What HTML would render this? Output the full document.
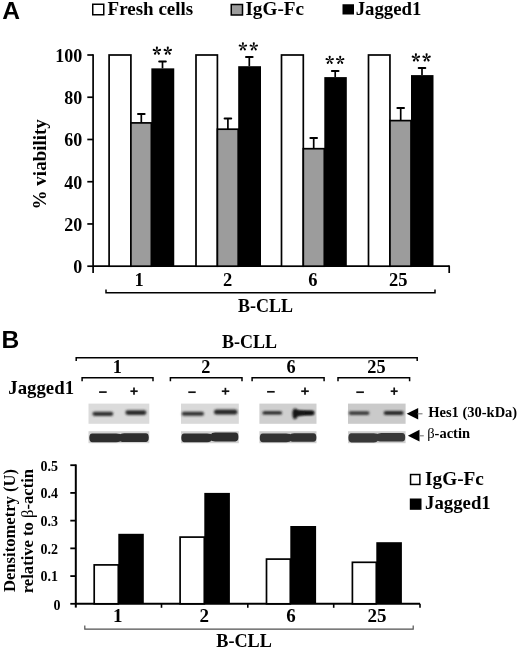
<!DOCTYPE html><html><head><meta charset="utf-8"><title>Figure</title><style>html,body{margin:0;padding:0;background:#fff;}svg{display:block;filter:blur(0.35px)}text{font-family:"Liberation Serif",serif;font-weight:bold;fill:#000}.sans{font-family:"Liberation Sans",sans-serif;font-weight:bold}.reg{font-weight:normal}</style></head><body>
<svg width="520" height="649" viewBox="0 0 520 649">
<defs><filter id="bl1" x="-20%" y="-100%" width="140%" height="300%"><feGaussianBlur stdDeviation="1.0"/></filter><filter id="bl2" x="-20%" y="-100%" width="140%" height="300%"><feGaussianBlur stdDeviation="0.75"/></filter><filter id="bl3" x="-5%" y="-5%" width="110%" height="110%"><feGaussianBlur stdDeviation="0.5"/></filter><g id="ast"><path id="pet" d="M-0.4,-0.5 L-1.0,-3.0 A1.05,1.05 0 1 1 1.0,-3.0 L0.4,-0.5 Z" fill="#000"/><use href="#pet" transform="rotate(72)"/><use href="#pet" transform="rotate(144)"/><use href="#pet" transform="rotate(216)"/><use href="#pet" transform="rotate(288)"/><circle r="0.7" fill="#333"/></g></defs>
<text class="sans" x="2.2" y="19.3" font-size="24.6">A</text>
<rect x="92.75" y="4.25" width="11" height="10.5" fill="#fff" stroke="#000" stroke-width="1.5"/>
<text x="107.6" y="15.1" font-size="19">Fresh cells</text>
<rect x="231.25" y="4.5" width="11.25" height="10.5" fill="#9c9c9c" stroke="#000" stroke-width="1.5"/>
<text x="245.4" y="15.2" font-size="19.2">IgG-Fc</text>
<rect x="342.5" y="4.25" width="11.5" height="10.25" fill="#000"/>
<text x="355.7" y="15.1" font-size="18.8">Jagged1</text>
<line x1="93.1" y1="54.2" x2="93.1" y2="273" stroke="#000" stroke-width="1.7"/>
<line x1="93.1" y1="266.2" x2="449.2" y2="266.2" stroke="#000" stroke-width="1.7"/>
<line x1="449.2" y1="265.4" x2="449.2" y2="273" stroke="#000" stroke-width="1.7"/>
<line x1="87.3" y1="266.20" x2="93.1" y2="266.20" stroke="#000" stroke-width="1.7"/>
<text x="82.2" y="273.20" font-size="18" text-anchor="end">0</text>
<line x1="87.3" y1="223.96" x2="93.1" y2="223.96" stroke="#000" stroke-width="1.7"/>
<text x="82.2" y="230.96" font-size="18" text-anchor="end">20</text>
<line x1="87.3" y1="181.72" x2="93.1" y2="181.72" stroke="#000" stroke-width="1.7"/>
<text x="82.2" y="188.72" font-size="18" text-anchor="end">40</text>
<line x1="87.3" y1="139.48" x2="93.1" y2="139.48" stroke="#000" stroke-width="1.7"/>
<text x="82.2" y="146.48" font-size="18" text-anchor="end">60</text>
<line x1="87.3" y1="97.24" x2="93.1" y2="97.24" stroke="#000" stroke-width="1.7"/>
<text x="82.2" y="104.24" font-size="18" text-anchor="end">80</text>
<line x1="87.3" y1="55.00" x2="93.1" y2="55.00" stroke="#000" stroke-width="1.7"/>
<text x="82.2" y="62.00" font-size="18" text-anchor="end">100</text>
<text transform="translate(46.4,209.4) rotate(-90)" font-size="19">% viability</text>
<line x1="141.30" y1="114.00" x2="141.30" y2="122.90" stroke="#000" stroke-width="1.7"/>
<line x1="138.00" y1="114.00" x2="144.60" y2="114.00" stroke="#000" stroke-width="2" stroke-linecap="round"/>
<line x1="162.50" y1="61.50" x2="162.50" y2="68.35" stroke="#000" stroke-width="1.7"/>
<line x1="159.20" y1="61.50" x2="165.80" y2="61.50" stroke="#000" stroke-width="2" stroke-linecap="round"/>
<rect x="109.10" y="55.00" width="21.80" height="211.20" fill="#fff" stroke="#000" stroke-width="1.7"/>
<rect x="130.90" y="122.90" width="20.45" height="143.30" fill="#9c9c9c" stroke="#000" stroke-width="1.7"/>
<rect x="151.35" y="68.35" width="22.90" height="197.85" fill="#000"/>
<use href="#ast" x="156.9" y="50.9"/>
<use href="#ast" x="167.8" y="50.9"/>
<text x="139.10" y="285.5" font-size="18.5" text-anchor="middle">1</text>
<line x1="227.90" y1="118.50" x2="227.90" y2="129.20" stroke="#000" stroke-width="1.7"/>
<line x1="224.60" y1="118.50" x2="231.20" y2="118.50" stroke="#000" stroke-width="2" stroke-linecap="round"/>
<line x1="249.30" y1="57.10" x2="249.30" y2="66.20" stroke="#000" stroke-width="1.7"/>
<line x1="246.00" y1="57.10" x2="252.60" y2="57.10" stroke="#000" stroke-width="2" stroke-linecap="round"/>
<rect x="196.00" y="55.00" width="21.40" height="211.20" fill="#fff" stroke="#000" stroke-width="1.7"/>
<rect x="217.40" y="129.20" width="20.80" height="137.00" fill="#9c9c9c" stroke="#000" stroke-width="1.7"/>
<rect x="238.20" y="66.20" width="22.80" height="200.00" fill="#000"/>
<use href="#ast" x="242.9" y="46.6"/>
<use href="#ast" x="253.8" y="46.6"/>
<text x="227.60" y="285.5" font-size="18.5" text-anchor="middle">2</text>
<line x1="313.70" y1="138.00" x2="313.70" y2="148.70" stroke="#000" stroke-width="1.7"/>
<line x1="310.40" y1="138.00" x2="317.00" y2="138.00" stroke="#000" stroke-width="2" stroke-linecap="round"/>
<line x1="335.20" y1="71.10" x2="335.20" y2="77.10" stroke="#000" stroke-width="1.7"/>
<line x1="331.90" y1="71.10" x2="338.50" y2="71.10" stroke="#000" stroke-width="2" stroke-linecap="round"/>
<rect x="281.50" y="55.00" width="21.80" height="211.20" fill="#fff" stroke="#000" stroke-width="1.7"/>
<rect x="303.30" y="148.70" width="21.00" height="117.50" fill="#9c9c9c" stroke="#000" stroke-width="1.7"/>
<rect x="324.30" y="77.10" width="22.50" height="189.10" fill="#000"/>
<use href="#ast" x="329.7" y="60.1"/>
<use href="#ast" x="340.2" y="60.1"/>
<text x="312.80" y="285.5" font-size="18.5" text-anchor="middle">6</text>
<line x1="400.70" y1="107.90" x2="400.70" y2="120.60" stroke="#000" stroke-width="1.7"/>
<line x1="397.40" y1="107.90" x2="404.00" y2="107.90" stroke="#000" stroke-width="2" stroke-linecap="round"/>
<line x1="422.00" y1="68.00" x2="422.00" y2="75.10" stroke="#000" stroke-width="1.7"/>
<line x1="418.70" y1="68.00" x2="425.30" y2="68.00" stroke="#000" stroke-width="2" stroke-linecap="round"/>
<rect x="368.50" y="55.00" width="21.45" height="211.20" fill="#fff" stroke="#000" stroke-width="1.7"/>
<rect x="389.95" y="120.60" width="21.05" height="145.60" fill="#9c9c9c" stroke="#000" stroke-width="1.7"/>
<rect x="411.00" y="75.10" width="22.50" height="191.10" fill="#000"/>
<use href="#ast" x="415.9" y="57.7"/>
<use href="#ast" x="426.6" y="57.7"/>
<text x="398.30" y="285.5" font-size="18.5" text-anchor="middle">25</text>
<path d="M106,289.5 V292.8 H435 V289.5" fill="none" stroke="#000" stroke-width="1.5"/>
<text x="238" y="312" font-size="18">B-CLL</text>
<text class="sans" x="1.6" y="348" font-size="24.6">B</text>
<text x="222" y="347.5" font-size="18">B-CLL</text>
<path d="M76.2,361 V357.7 H417.2 V361" fill="none" stroke="#000" stroke-width="1.5"/>
<path d="M82.1,381.2 V377.8 H153 V381.2" fill="none" stroke="#000" stroke-width="1.5"/>
<text x="117.3" y="373.3" font-size="18.3" text-anchor="middle">1</text>
<path d="M170.4,381.2 V377.8 H242 V381.2" fill="none" stroke="#000" stroke-width="1.5"/>
<text x="205.9" y="373.3" font-size="18.3" text-anchor="middle">2</text>
<path d="M252.1,381.2 V377.8 H324.1 V381.2" fill="none" stroke="#000" stroke-width="1.5"/>
<text x="291" y="373.3" font-size="18.3" text-anchor="middle">6</text>
<path d="M338,381.2 V377.8 H409.6 V381.2" fill="none" stroke="#000" stroke-width="1.5"/>
<text x="376.4" y="373.3" font-size="18.3" text-anchor="middle">25</text>
<text x="8.3" y="394.4" font-size="18.8">Jagged1</text>
<line x1="99.1" y1="392.1" x2="106.7" y2="392.1" stroke="#111" stroke-width="1.7"/>
<line x1="188.3" y1="392.2" x2="195.7" y2="392.2" stroke="#111" stroke-width="1.7"/>
<line x1="267.1" y1="391.8" x2="274.7" y2="391.8" stroke="#111" stroke-width="1.7"/>
<line x1="356.3" y1="392.2" x2="363.9" y2="392.2" stroke="#111" stroke-width="1.7"/>
<line x1="130.4" y1="391.2" x2="137.7" y2="391.2" stroke="#111" stroke-width="1.7"/>
<line x1="134" y1="387.6" x2="134" y2="394.7" stroke="#111" stroke-width="1.7"/>
<line x1="221.8" y1="391.2" x2="229.29999999999998" y2="391.2" stroke="#111" stroke-width="1.7"/>
<line x1="225.4" y1="387.8" x2="225.4" y2="394.7" stroke="#111" stroke-width="1.7"/>
<line x1="301.2" y1="391.2" x2="308.8" y2="391.2" stroke="#111" stroke-width="1.7"/>
<line x1="305" y1="387.5" x2="305" y2="394.7" stroke="#111" stroke-width="1.7"/>
<line x1="390.7" y1="391.2" x2="397.7" y2="391.2" stroke="#111" stroke-width="1.7"/>
<line x1="394.2" y1="387.5" x2="394.2" y2="394.9" stroke="#111" stroke-width="1.7"/>
<rect x="88.5" y="403.6" width="60.8" height="20.2" fill="#dbdbdb" filter="url(#bl3)"/>
<rect x="88.5" y="431.2" width="60.8" height="12" fill="#d4d4d4" filter="url(#bl3)"/>
<rect x="181" y="403.6" width="57.8" height="20.2" fill="#d9d9d9" filter="url(#bl3)"/>
<rect x="181" y="431.2" width="57.8" height="12" fill="#d2d2d2" filter="url(#bl3)"/>
<rect x="259.4" y="403.6" width="57.1" height="20.2" fill="#cfcfcf" filter="url(#bl3)"/>
<rect x="259.4" y="431.2" width="57.1" height="12" fill="#cecece" filter="url(#bl3)"/>
<rect x="348" y="403.6" width="57.6" height="20.2" fill="#cacaca" filter="url(#bl3)"/>
<rect x="348" y="431.2" width="57.6" height="12" fill="#d0d0d0" filter="url(#bl3)"/>
<rect x="92.4" y="411.70" width="20.9" height="4.2" rx="2.1" fill="#333" filter="url(#bl1)"/>
<rect x="125.4" y="410.30" width="21.0" height="4.6" rx="2.3" fill="#2c2c2c" filter="url(#bl1)"/>
<rect x="181.7" y="411.70" width="22.3" height="4.0" rx="2.0" fill="#333" filter="url(#bl1)"/>
<rect x="214" y="409.50" width="23.4" height="5.0" rx="2.5" fill="#282828" filter="url(#bl1)"/>
<rect x="262.4" y="411.20" width="19.6" height="3.4" rx="1.7" fill="#202020" filter="url(#bl1)"/>
<rect x="294" y="410.70" width="20.2" height="4.2" rx="2.1" fill="#1e1e1e" filter="url(#bl1)"/>
<rect x="348.7" y="411.30" width="20.8" height="3.6" rx="1.8" fill="#3a3a3a" filter="url(#bl1)"/>
<rect x="383.7" y="411.00" width="19.9" height="4.0" rx="2.0" fill="#262626" filter="url(#bl1)"/>
<path d="M292.5,414 C292.5,407 296,407.5 298,410.5 L306,411.2 L313.5,411.4 Q314.5,413 313.5,414.6 L306,414.8 L298,416 C296,420 292.5,421 292.5,414 Z" fill="#141414" filter="url(#bl1)"/>
<path d="M89.3,437.8 Q89.3,433.4 92.3,433.4 L116.3,433.4 Q120.3,433.7 120.3,434.2 Q120.3,433.5 124.3,433.2 L145.8,433.2 Q148.8,433.2 148.8,437.6 Q148.8,442.0 145.8,442.0 L124.3,442.0 Q120.3,441.7 120.3,441.2 Q120.3,441.9 116.3,442.2 L92.3,442.2 Q89.3,442.2 89.3,437.8 Z" fill="#2e2e2e" filter="url(#bl2)"/>
<path d="M181.3,437.8 Q181.3,433.4 184.3,433.4 L207.3,433.4 Q211.3,433.7 211.3,434.2 Q211.3,432.90000000000003 215.3,432.6 L235.4,432.6 Q238.4,432.6 238.4,437.0 Q238.4,441.4 235.4,441.4 L215.3,441.4 Q211.3,441.09999999999997 211.3,440.59999999999997 Q211.3,441.9 207.3,442.2 L184.3,442.2 Q181.3,442.2 181.3,437.8 Z" fill="#2e2e2e" filter="url(#bl2)"/>
<path d="M259.8,437.9 Q259.8,433.6 262.8,433.6 L286.3,433.6 Q290.3,433.90000000000003 290.3,434.40000000000003 Q290.3,433.5 294.3,433.2 L313.4,433.2 Q316.4,433.2 316.4,437.5 Q316.4,441.8 313.4,441.8 L294.3,441.8 Q290.3,441.5 290.3,441.0 Q290.3,441.9 286.3,442.2 L262.8,442.2 Q259.8,442.2 259.8,437.9 Z" fill="#333" filter="url(#bl2)"/>
<path d="M348.4,437.8 Q348.4,433.2 351.4,433.2 L373.7,433.2 Q377.7,433.5 377.7,434.0 Q377.7,433.3 381.7,433.0 L402.2,433.0 Q405.2,433.0 405.2,437.3 Q405.2,441.6 402.2,441.6 L381.7,441.6 Q377.7,441.3 377.7,440.8 Q377.7,442.09999999999997 373.7,442.4 L351.4,442.4 Q348.4,442.4 348.4,437.8 Z" fill="#383838" filter="url(#bl2)"/>
<path d="M406.6,413.8 L418.2,408 L418.2,419.5 Z" fill="#000"/>
<line x1="417.5" y1="413.8" x2="422.5" y2="413.8" stroke="#777" stroke-width="1.1"/>
<text x="428.2" y="417" font-size="14.5">Hes1 (30-kDa)</text>
<path d="M407.9,435.8 L419.5,429.8 L419.5,441.4 Z" fill="#000"/>
<line x1="419" y1="435.8" x2="423.8" y2="435.8" stroke="#777" stroke-width="1.1"/>
<text x="427.2" y="437.7" font-size="14.5"><tspan class="reg" style="font-weight:normal">β</tspan>-actin</text>
<line x1="75.8" y1="464.4" x2="75.8" y2="607.6" stroke="#000" stroke-width="2"/>
<line x1="75.8" y1="603.8" x2="420" y2="603.8" stroke="#000" stroke-width="2"/>
<line x1="161.5" y1="603.8" x2="161.5" y2="607.8" stroke="#000" stroke-width="1.6"/>
<line x1="247.8" y1="603.8" x2="247.8" y2="607.8" stroke="#000" stroke-width="1.6"/>
<line x1="333.7" y1="603.8" x2="333.7" y2="607.8" stroke="#000" stroke-width="1.6"/>
<line x1="420" y1="603.8" x2="420" y2="607.8" stroke="#000" stroke-width="1.6"/>
<line x1="70.3" y1="603.80" x2="75.8" y2="603.80" stroke="#000" stroke-width="1.8"/>
<text x="60.4" y="610.40" font-size="14" text-anchor="end">0</text>
<line x1="70.3" y1="576.08" x2="75.8" y2="576.08" stroke="#000" stroke-width="1.8"/>
<text x="58" y="581.48" font-size="14" text-anchor="end">0.1</text>
<line x1="70.3" y1="548.36" x2="75.8" y2="548.36" stroke="#000" stroke-width="1.8"/>
<text x="58" y="553.76" font-size="14" text-anchor="end">0.2</text>
<line x1="70.3" y1="520.64" x2="75.8" y2="520.64" stroke="#000" stroke-width="1.8"/>
<text x="58" y="526.04" font-size="14" text-anchor="end">0.3</text>
<line x1="70.3" y1="492.92" x2="75.8" y2="492.92" stroke="#000" stroke-width="1.8"/>
<text x="58" y="498.32" font-size="14" text-anchor="end">0.4</text>
<line x1="70.3" y1="465.20" x2="75.8" y2="465.20" stroke="#000" stroke-width="1.8"/>
<text x="58" y="470.60" font-size="14" text-anchor="end">0.5</text>
<text transform="translate(15.3,592) rotate(-90)" font-size="16.6">Densitometry (U)</text>
<text transform="translate(33.2,593.2) rotate(-90)" font-size="16.6">relative to <tspan style="font-weight:normal">β</tspan>-actin</text>
<rect x="94.20" y="564.90" width="24.10" height="38.90" fill="#fff" stroke="#000" stroke-width="1.7"/>
<rect x="118.30" y="533.80" width="25.50" height="70.00" fill="#000"/>
<text x="117.7" y="621.5" font-size="19" text-anchor="middle">1</text>
<rect x="180.10" y="537.10" width="24.20" height="66.70" fill="#fff" stroke="#000" stroke-width="1.7"/>
<rect x="204.30" y="492.90" width="25.60" height="110.90" fill="#000"/>
<text x="204.3" y="621.5" font-size="19" text-anchor="middle">2</text>
<rect x="266.50" y="559.10" width="23.80" height="44.70" fill="#fff" stroke="#000" stroke-width="1.7"/>
<rect x="290.30" y="526.00" width="25.80" height="77.80" fill="#000"/>
<text x="291.1" y="621.5" font-size="19" text-anchor="middle">6</text>
<rect x="352.40" y="562.30" width="23.90" height="41.50" fill="#fff" stroke="#000" stroke-width="1.7"/>
<rect x="376.30" y="542.20" width="25.60" height="61.60" fill="#000"/>
<text x="377.1" y="621.5" font-size="19" text-anchor="middle">25</text>
<path d="M84.8,625.6 V629.2 H413.2 V625.6" fill="none" stroke="#505050" stroke-width="1.2"/>
<text x="216.3" y="647" font-size="18.2">B-CLL</text>
<rect x="410.55" y="474.55" width="9.3" height="9.9" fill="#fff" stroke="#000" stroke-width="1.5"/>
<text x="425" y="484.6" font-size="19.3">IgG-Fc</text>
<rect x="409.8" y="498.5" width="11.7" height="11.3" fill="#000"/>
<text x="425" y="509.3" font-size="18.8">Jagged1</text>
</svg></body></html>
